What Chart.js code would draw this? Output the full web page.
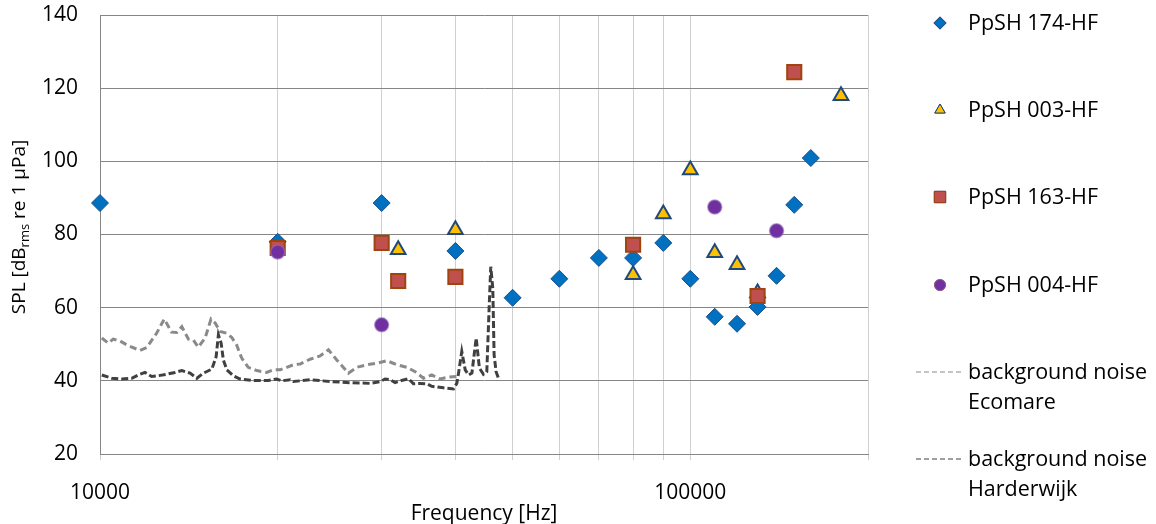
<!DOCTYPE html>
<html>
<head>
<meta charset="utf-8">
<script src="https://cdn.jsdelivr.net/npm/chart.js@4.4.1/dist/chart.umd.min.js"></script>
<style>
html, body { margin: 0; padding: 0; background: #fff; }
#wrap { width: 1156px; height: 524px; }
</style>
</head>
<body>
<div id="wrap"><canvas id="chart"></canvas></div>
<script>
// measured sources: frequency [Hz] / level [dB]
const freq174 = [10000, 20000, 30000, 40000, 50000, 60000, 70000, 80000, 90000, 100000, 110000, 120000, 130000, 140000, 150000, 160000];
const spl174 = [88.6, 78.0, 88.6, 75.5, 62.7, 67.9, 73.6, 73.6, 77.7, 67.9, 57.5, 55.6, 60.2, 68.7, 88.1, 100.9];

const freq003 = [32000, 40000, 80000, 90000, 100000, 110000, 120000, 130000, 180000];
const spl003 = [75.8, 81.3, 69.0, 85.6, 97.6, 75.0, 71.7, 64.0, 117.9];

const freq163 = [20000, 30000, 32000, 40000, 80000, 130000, 150000];
const spl163 = [76.3, 77.7, 67.3, 68.4, 77.2, 63.2, 124.4];

const freq004 = [20000, 30000, 110000, 140000];
const spl004 = [75.2, 55.3, 87.5, 81.0];

// background noise spectra
const ecoFreq = [10070, 10330, 10530, 10810, 11170, 11690, 12000, 12470, 12850, 13220, 13490, 13760, 14120, 14390, 14670, 15070,
  15420, 15670, 15970, 16400, 16710, 17040, 17380, 17830, 18430, 19160, 19660, 20190, 20720, 21270, 21830, 22700,
  23600, 24380, 25180, 26350, 27230, 28320, 29440, 30620, 31830, 33100, 34190, 35320, 36480, 37690, 38940, 40220];
const ecoSpl = [51.7, 50.3, 51.4, 50.9, 49.6, 48.3, 49.1, 53.0, 56.9, 53.3, 53.2, 54.8, 51.4, 51.2, 49.2, 51.7,
  56.9, 55.8, 53.5, 53.0, 51.9, 49.8, 46.2, 43.7, 42.8, 42.3, 43.0, 43.0, 43.7, 44.4, 44.6, 45.9,
  46.8, 48.5, 45.7, 42.1, 43.7, 44.4, 44.8, 45.5, 44.4, 43.7, 42.5, 40.7, 41.6, 40.5, 41.0, 41.2];

const hwFreq = [10070, 10470, 10880, 11320, 11610, 11920, 12230, 12550, 12970, 13400, 13760, 14210, 14590, 14970, 15470, 15730,
  15870, 16040, 16180, 16400, 16820, 17270, 18070, 19280, 19920, 20320, 20990, 21270, 22700, 24540, 26530, 28680,
  29830, 30410, 31010, 31620, 32250, 33310, 33960, 34860, 35790, 36480, 38180, 39700, 40220, 40490, 41010, 41560,
  42100, 42660, 43380, 43920, 44620, 45210, 45670, 45920, 46280, 46520, 46880, 47310];
const hwSpl = [41.6, 40.7, 40.5, 40.7, 41.6, 42.3, 41.2, 41.4, 41.8, 42.3, 42.8, 42.1, 40.7, 42.1, 43.2, 46.6,
  52.6, 50.3, 45.7, 43.0, 41.4, 40.5, 40.1, 40.1, 40.5, 40.0, 40.3, 39.8, 40.3, 39.8, 39.5, 39.3,
  39.8, 40.5, 40.3, 39.5, 40.0, 40.6, 39.2, 39.3, 39.2, 38.5, 38.1, 37.8, 39.3, 42.1, 48.0, 43.0,
  41.6, 42.1, 51.7, 43.5, 41.8, 42.5, 61.7, 71.2, 65.3, 47.1, 42.5, 40.7];

const xGridTicks = [10000, 20000, 30000, 40000, 50000, 60000, 70000, 80000, 90000, 100000, 200000];
const xLabelTicks = [10000, 100000];
const yTicks = [20, 40, 60, 80, 100, 120, 140];

const FONT = "'Open Sans', 'DejaVu Sans', sans-serif";

function toPoints(xs, ys) {
  return xs.map((x, i) => ({ x: x, y: ys[i] }));
}

// y axis title with subscript
const yTitlePlugin = {
  id: 'yTitle',
  afterDraw(chart) {
    const ctx = chart.ctx;
    const parts = [['SPL [dB', 19, 0], ['rms', 13, 5], [' re 1 µPa]', 19, 0]];
    ctx.save();
    let total = 0;
    parts.forEach(p => { ctx.font = p[1] + 'px ' + FONT; total += ctx.measureText(p[0]).width; });
    ctx.translate(20, 227);
    ctx.rotate(-Math.PI / 2);
    ctx.fillStyle = '#000';
    ctx.textBaseline = 'middle';
    let x = -total / 2;
    parts.forEach(p => {
      ctx.font = p[1] + 'px ' + FONT;
      ctx.fillText(p[0], x, p[2]);
      x += ctx.measureText(p[0]).width;
    });
    ctx.restore();
  }
};

// legend on the right, as in the original sheet
const legendPlugin = {
  id: 'sideLegend',
  afterDraw(chart) {
    const ctx = chart.ctx;
    const rows = [23, 110, 197, 285, 372, 459];
    ctx.save();
    ctx.font = '21.5px ' + FONT;
    ctx.textBaseline = 'middle';
    chart.data.datasets.forEach((ds, i) => {
      const y = rows[i];
      if (ds.showLine) {
        ctx.strokeStyle = ds.borderColor;
        ctx.lineWidth = 1.2;
        ctx.setLineDash([5, 3]);
        ctx.beginPath();
        ctx.moveTo(916, y);
        ctx.lineTo(962, y);
        ctx.stroke();
        ctx.setLineDash([]);
      } else {
        Chart.helpers.drawPoint(ctx, {
          pointStyle: ds.pointStyle,
          radius: ds.legendRadius,
          rotation: 0,
          borderWidth: 1
        }, 940, y);
        ctx.fillStyle = ds.backgroundColor;
        ctx.strokeStyle = ds.borderColor;
        ctx.lineWidth = 1;
        ctx.fill();
        ctx.stroke();
      }
      ctx.fillStyle = '#000';
      const lines = ds.label.split('\n');
      lines.forEach((t, k) => ctx.fillText(t, 968, y + 1 + k * 30));
    });
    ctx.restore();
  }
};

new Chart(document.getElementById('chart'), {
  type: 'scatter',
  data: {
    datasets: [
      {
        label: 'PpSH 174-HF',
        data: toPoints(freq174, spl174),
        pointStyle: 'rectRot',
        pointRadius: 8.5,
        legendRadius: 6,
        backgroundColor: '#0070C0',
        borderColor: '#1F4E8C',
        borderWidth: 1,
        clip: false,
        order: 4
      },
      {
        label: 'PpSH 003-HF',
        data: toPoints(freq003, spl003),
        pointStyle: 'triangle',
        pointRadius: 8.5,
        legendRadius: 6,
        backgroundColor: '#FFC000',
        borderColor: '#1F497D',
        borderWidth: 2,
        clip: false,
        order: 3
      },
      {
        label: 'PpSH 163-HF',
        data: toPoints(freq163, spl163),
        pointStyle: 'rect',
        pointRadius: 10,
        legendRadius: 8,
        backgroundColor: '#C0504D',
        borderColor: '#A0440F',
        borderWidth: 2,
        clip: false,
        order: 2
      },
      {
        label: 'PpSH 004-HF',
        data: toPoints(freq004, spl004),
        pointStyle: 'circle',
        pointRadius: 7,
        legendRadius: 5.5,
        backgroundColor: '#7030A0',
        borderColor: 'rgba(150,110,190,0.6)',
        borderWidth: 1.5,
        clip: false,
        order: 1
      },
      {
        label: 'background noise\nEcomare',
        data: toPoints(ecoFreq, ecoSpl),
        showLine: true,
        pointRadius: 0,
        borderColor: '#8A8A8A',
        borderWidth: 3,
        borderDash: [7, 4],
        tension: 0,
        order: 6
      },
      {
        label: 'background noise\nHarderwijk',
        data: toPoints(hwFreq, hwSpl),
        showLine: true,
        pointRadius: 0,
        borderColor: '#404040',
        borderWidth: 3,
        borderDash: [7, 3],
        tension: 0,
        order: 5
      }
    ]
  },
  options: {
    responsive: true,
    maintainAspectRatio: false,
    animation: false,
    layout: { padding: { left: 0, right: 288, top: 15, bottom: 0 } },
    plugins: {
      legend: { display: false },
      tooltip: { enabled: false }
    },
    scales: {
      x: {
        type: 'logarithmic',
        min: 10000,
        max: 200000,
        afterBuildTicks: (scale) => { scale.ticks = xGridTicks.map(v => ({ value: v })); },
        afterFit: (scale) => {
          scale.height = 70;
          scale.paddingLeft = 0;
          scale.paddingRight = 0;
        },
        ticks: {
          autoSkip: false,
          maxRotation: 0,
          padding: 20,
          color: '#000',
          font: { family: FONT, size: 21 },
          callback: (v) => xLabelTicks.includes(v) ? String(v) : ''
        },
        grid: { color: '#D0D0D0', lineWidth: 1, tickLength: 6, drawTicks: true },
        border: { color: '#868686', width: 1 },
        title: {
          display: true,
          text: 'Frequency [Hz]',
          color: '#000',
          font: { family: FONT, size: 21 },
          padding: { top: 0, bottom: -3 }
        }
      },
      y: {
        min: 20,
        max: 140,
        afterBuildTicks: (scale) => { scale.ticks = yTicks.map(v => ({ value: v })); },
        afterFit: (scale) => {
          scale.width = 100;
          scale.paddingTop = 0;
          scale.paddingBottom = 0;
        },
        ticks: {
          padding: 22,
          color: '#000',
          font: { family: FONT, size: 21 }
        },
        grid: { color: '#868686', lineWidth: 1, drawTicks: false },
        border: { color: '#868686', width: 1 }
      }
    }
  },
  plugins: [yTitlePlugin, legendPlugin]
});
</script>
</body>
</html>
